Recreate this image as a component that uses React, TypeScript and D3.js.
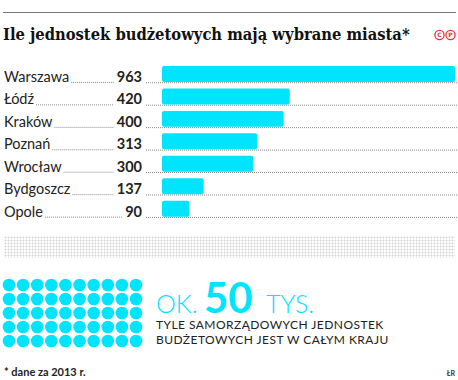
import React from "react";
import * as d3 from "d3";

const cities = ["Warszawa", "Łódź", "Kraków", "Poznań", "Wrocław", "Bydgoszcz", "Opole"];
const values = [963, 420, 400, 313, 300, 137, 90];
const totalThousands = 50;
const title = "Ile jednostek budżetowych mają wybrane miasta*";
const markLetters = ["C", "P"];
const bigNumber = "50";
const bigPrefix = "OK.";
const bigSuffix = "TYS.";
const subLines = ["TYLE SAMORZĄDOWYCH JEDNOSTEK", "BUDŻETOWYCH JEST W CAŁYM KRAJU"];
const footnote = "* dane za 2013 r.";
const credit = "ŁR";

const W = 458;
const H = 380;
const CYAN = "#00e4fd";
const RED = "#e8303a";
const LABEL_FONT = "14.5px Lato";
const VALUE_FONT = "bold 14.5px Lato";
const TITLE_FONT = "bold 16px 'DejaVu Serif'";

let ctx: CanvasRenderingContext2D | null = null;
function measure(text: string, font: string): number {
  if (!ctx) ctx = document.createElement("canvas").getContext("2d");
  if (!ctx) return text.length * 7;
  ctx.font = font;
  return ctx.measureText(text).width;
}

export default function App() {
  const x = d3.scaleLinear().domain([0, 963]).range([162, 455]);
  const y = d3
    .scaleBand<string>()
    .domain(cities)
    .range([62.74, 62.74 + 7 * 22.45])
    .paddingInner(0.29)
    .paddingOuter(0.145);
  const valueRight = 142;
  const labelX = 4;

  const dotCols = 10;
  const dotRows = totalThousands / dotCols;
  const dx = d3.scaleLinear().domain([0, dotCols - 1]).range([9, 136]);
  const dy = d3.scaleLinear().domain([0, dotRows - 1]).range([285, 341]);
  const dots = d3.range(totalThousands).map((i) => ({ c: i % dotCols, r: Math.floor(i / dotCols) }));
  const markX = [439.5, 450.5];
  const titleW = measure(title, TITLE_FONT);
  const sx = titleW > 0 ? Math.min(1, 407 / titleW) : 1;

  return (
    <svg width={W} height={H} style={{ position: "absolute", left: 0, top: 0, background: "#fff" }}>
      <defs>
        <pattern id="gdots" x="4" y="236" width="3" height="3" patternUnits="userSpaceOnUse">
          <circle cx="1.5" cy="1.5" r="0.95" fill="#d2d2d2" />
        </pattern>
      </defs>
      <rect width={W} height={H} fill="#fff" />
      <line x1={3} x2={456} y1={12.5} y2={12.5} stroke="#777" strokeWidth={1} />
      <text transform={`translate(3,40) scale(${sx},1)`} style={{ font: TITLE_FONT }} fill="#111">
        {title}
      </text>
      <g fill="none" stroke={RED} strokeWidth={1.3}>
        {markX.map((mx) => (
          <circle key={mx} cx={mx} cy={35} r={4.6} />
        ))}
      </g>
      <text y={37.2} fontSize={6} fontWeight="bold" fontFamily="DejaVu Sans" fill={RED} textAnchor="middle">
        {markLetters.map((l, i) => (
          <tspan key={l} x={markX[i]}>
            {l}
          </tspan>
        ))}
      </text>

      {cities.map((c, i) => {
        const top = y(c)!;
        const bh = y.bandwidth();
        const base = top + bh;
        const lw = measure(c, LABEL_FONT);
        const vs = String(values[i]);
        const vw = measure(vs, VALUE_FONT);
        return (
          <g key={c}>
            <line
              x1={labelX + lw + 2}
              x2={valueRight - vw - 3}
              y1={base + 0.5}
              y2={base + 0.5}
              stroke="#888"
              strokeWidth={1}
              strokeDasharray="1 1"
            />
            <line
              x1={valueRight + 4}
              x2={457}
              y1={base + 0.8}
              y2={base + 0.8}
              stroke="#888"
              strokeWidth={1}
              strokeDasharray="1 1"
            />
            <rect x={x(0)} y={top} width={x(values[i]) - x(0)} height={bh} rx={2} fill={CYAN} />
            <text x={labelX} y={base} style={{ font: LABEL_FONT }} fill="#222">
              {c}
            </text>
            <text x={valueRight} y={base} style={{ font: VALUE_FONT }} fill="#222" textAnchor="end">
              {vs}
            </text>
          </g>
        );
      })}

      <rect x={4} y={236} width={451} height={22} fill="url(#gdots)" />

      {dots.map((d, i) => (
        <circle key={i} cx={dx(d.c)} cy={dy(d.r)} r={6.3} fill={CYAN} />
      ))}

      <text x={156} y={313} fontFamily="Lato" fontWeight={300} fontSize={25} fill={CYAN}>
        {bigPrefix}
      </text>
      <text x={204} y={313} fontFamily="Lato" fontWeight="bold" fontSize={42} fill={CYAN}>
        {bigNumber}
      </text>
      <text x={266} y={313} fontFamily="Lato" fontWeight={300} fontSize={25} fill={CYAN}>
        {bigSuffix}
      </text>
      {subLines.map((s, i) => (
        <text key={i} x={156} y={329 + i * 15} fontFamily="Lato" fontSize={12} letterSpacing={0.45} fill="#222">
          {s}
        </text>
      ))}
      <text x={4} y={376} fontFamily="Lato" fontWeight="bold" fontSize={11} fill="#222">
        {footnote}
      </text>
      <text x={455} y={376} fontFamily="Lato" fontWeight="bold" fontSize={7} fill="#333" textAnchor="end">
        {credit}
      </text>
    </svg>
  );
}
